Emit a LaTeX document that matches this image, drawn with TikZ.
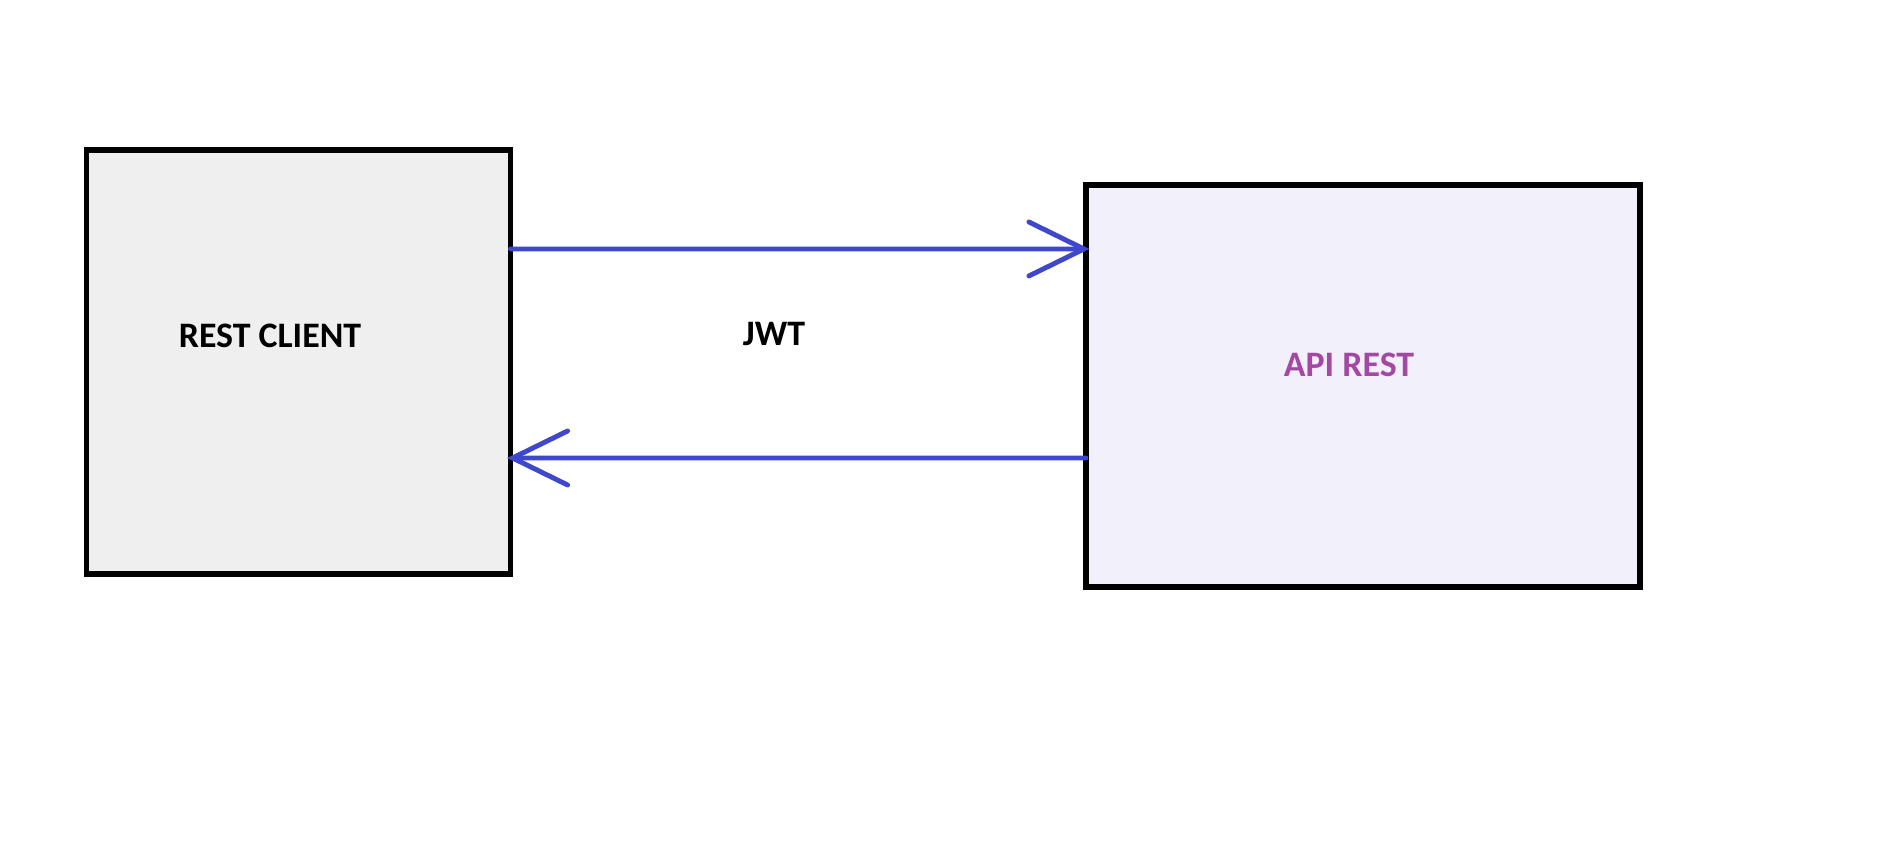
\documentclass[tikz,border=0pt]{standalone}
\usepackage{fontspec}
\setmainfont{Carlito}
\usetikzlibrary{arrows.meta, positioning}
\definecolor{indigo}{HTML}{3F48CC}
\definecolor{plum}{HTML}{A349A4}
\definecolor{lightgray}{HTML}{EFEFEF}
\definecolor{lavender}{HTML}{F2F0FA}

\begin{document}
\begin{tikzpicture}[
    % Estilos de las cajas
    box/.style={
        draw=black, line width=1.45pt, outer sep=0pt, inner sep=0pt
    },
    label/.style={
        font=\fontsize{10.2pt}{12pt}\selectfont\bfseries
    },
    % Estilo de las flechas
    arrow/.style={
        -{Straight Barb[length=5.5mm, width=5.4mm, line cap=round, line width=1.4pt]},
        line width=1.35pt, line cap=round, color=indigo, shorten >=-1pt
    }
]
    \useasboundingbox (0,0) rectangle (18.99,8.41);

    % 1. Cajas
    \node[box, fill=lightgray, minimum width=4.24cm, minimum height=4.24cm] (client) at (2.985, 4.79) {};
    \node[box, fill=lavender, minimum width=5.54cm, minimum height=4.02cm] (api) at (13.63, 4.55) {};

    % 2. Textos
    \node[label] (clienttxt) at (2.70, 5.05) {REST CLIENT};
    \node[label, text=plum] (apitxt) at (13.49, 4.76) {API REST};
    \node[label] (jwt) at (7.74, 5.07) {JWT};

    % 3. Flechas
    \draw[arrow] ([yshift=1.13cm]client.east) -- ([yshift=1.37cm]api.west);
    \draw[arrow] ([yshift=-0.72cm]api.west) -- ([yshift=-0.96cm]client.east);

\end{tikzpicture}
\end{document}
